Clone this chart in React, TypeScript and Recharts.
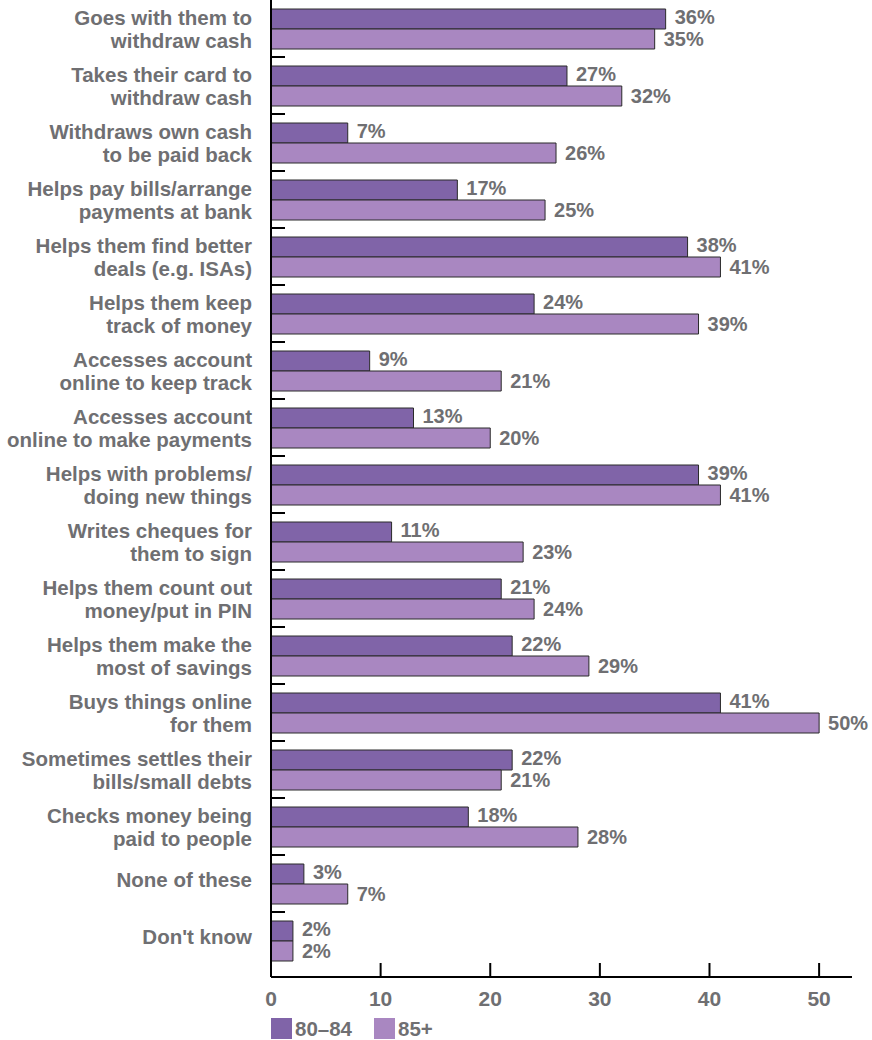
import React from "react";
import { BarChart, Bar, XAxis, YAxis, Legend, LabelList } from "recharts";

const categories = [
  "Goes with them to\nwithdraw cash",
  "Takes their card to\nwithdraw cash",
  "Withdraws own cash\nto be paid back",
  "Helps pay bills/arrange\npayments at bank",
  "Helps them find better\ndeals (e.g. ISAs)",
  "Helps them keep\ntrack of money",
  "Accesses account\nonline to keep track",
  "Accesses account\nonline to make payments",
  "Helps with problems/\ndoing new things",
  "Writes cheques for\nthem to sign",
  "Helps them count out\nmoney/put in PIN",
  "Helps them make the\nmost of savings",
  "Buys things online\nfor them",
  "Sometimes settles their\nbills/small debts",
  "Checks money being\npaid to people",
  "None of these",
  "Don't know",
];

const age80to84 = [36, 27, 7, 17, 38, 24, 9, 13, 39, 11, 21, 22, 41, 22, 18, 3, 2];
const age85plus = [35, 32, 26, 25, 41, 39, 21, 20, 41, 23, 24, 29, 50, 21, 28, 7, 2];

const xTicks = [0, 10, 20, 30, 40, 50];

const DARK = "#8064a8";
const LIGHT = "#a987c1";
const GREY = "#6f6f72";
const FONT = "'Liberation Sans', Arial, sans-serif";

const CHART_W = 872;
const CHART_H = 1040;
const PLOT_BOTTOM = 977;
const PAD_BOTTOM = 8;
const BAND = (PLOT_BOTTOM - PAD_BOTTOM) / categories.length;

const data = categories.map((name, i) => ({
  name,
  a: age80to84[i],
  b: age85plus[i],
}));

const CategoryTick = (props: any) => {
  const { x, y, payload, index } = props;
  const lines = String(payload.value).split("\n");
  const startY = lines.length > 1 ? y - 11.5 : y - 5;
  return (
    <g>
      {index > 0 && (
        <line x1={x} x2={x + 14} y1={y - BAND / 2} y2={y - BAND / 2} stroke="#000" strokeWidth={2} />
      )}
      <text
        x={x - 19}
        y={startY}
        textAnchor="end"
        dominantBaseline="central"
        fill={GREY}
        fontSize={20.5}
        fontWeight="bold"
        fontFamily={FONT}
      >
        {lines.map((l, i) => (
          <tspan key={i} x={x - 19} dy={i === 0 ? 0 : 23}>
            {l}
          </tspan>
        ))}
      </text>
    </g>
  );
};

const ValueTick = (props: any) => {
  const { x, y, payload } = props;
  return (
    <g>
      {payload.value !== 0 && (
        <line x1={x} x2={x} y1={y} y2={y - 14} stroke="#000" strokeWidth={2} />
      )}
      <text
        x={x}
        y={y + 21}
        textAnchor="middle"
        dominantBaseline="central"
        fill={GREY}
        fontSize={21}
        fontWeight="bold"
        fontFamily={FONT}
      >
        {payload.value}
      </text>
    </g>
  );
};

const LegendContent = () => (
  <div
    style={{
      height: 28,
      boxSizing: "border-box",
      paddingTop: 5,
      display: "flex",
      alignItems: "center",
      paddingLeft: 271,
      fontFamily: FONT,
      fontWeight: "bold",
      fontSize: 20.5,
      color: GREY,
    }}
  >
    <span style={{ width: 21, height: 21, background: DARK, display: "inline-block", marginRight: 3 }} />
    <span style={{ marginRight: 22 }}>80–84</span>
    <span style={{ width: 21, height: 21, background: LIGHT, display: "inline-block", marginRight: 3 }} />
    <span>85+</span>
  </div>
);

export default function App() {
  return (
    <div style={{ position: "absolute", left: 0, top: 0 }}>
      <BarChart
        width={CHART_W}
        height={CHART_H}
        data={data}
        layout="vertical"
        margin={{ top: 0, right: 20, left: 0, bottom: 0 }}
        barGap={0}
      >
        <XAxis
          type="number"
          domain={[0, 53]}
          ticks={xTicks}
          allowDataOverflow
          height={35}
          tickSize={0}
          tickMargin={0}
          tickLine={false}
          axisLine={{ stroke: "#000", strokeWidth: 2 }}
          tick={<ValueTick />}
        />
        <YAxis
          type="category"
          dataKey="name"
          width={271}
          interval={0}
          tickSize={0}
          tickMargin={0}
          tickLine={false}
          padding={{ top: 0, bottom: PAD_BOTTOM }}
          axisLine={{ stroke: "#000", strokeWidth: 2 }}
          tick={<CategoryTick />}
        />
        <Legend verticalAlign="bottom" align="left" height={28} content={<LegendContent />} />
        <Bar dataKey="a" name="80–84" fill={DARK} stroke="#2a2a2a" strokeWidth={1} barSize={20} isAnimationActive={false}>
          <LabelList
            dataKey="a"
            position="right"
            offset={9}
            dy={-2}
            formatter={(v: any) => `${v}%`}
            fill={GREY}
            fontSize={20}
            fontWeight="bold"
            fontFamily={FONT}
          />
        </Bar>
        <Bar dataKey="b" name="85+" fill={LIGHT} stroke="#2a2a2a" strokeWidth={1} barSize={20} isAnimationActive={false}>
          <LabelList
            dataKey="b"
            position="right"
            offset={9}
            formatter={(v: any) => `${v}%`}
            fill={GREY}
            fontSize={20}
            fontWeight="bold"
            fontFamily={FONT}
          />
        </Bar>
      </BarChart>
    </div>
  );
}
